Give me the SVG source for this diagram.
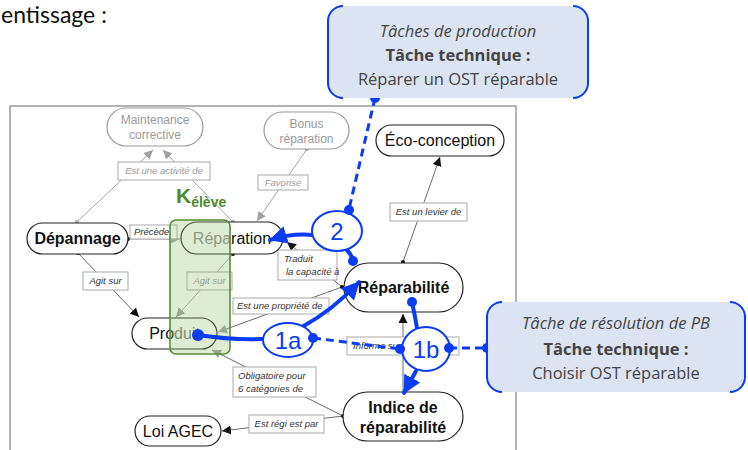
<svg xmlns="http://www.w3.org/2000/svg" width="748" height="450" viewBox="0 0 748 450">
<defs>
<style>
.node{fill:#fff;stroke:#222;stroke-width:1.2}
.gnode{fill:#fff;stroke:#9a9a9a;stroke-width:1.2}
.nt{font-family:"Liberation Sans",Arial,sans-serif;font-size:16px;fill:#111;text-anchor:middle}
.gt{font-family:"Liberation Sans",Arial,sans-serif;font-size:12px;fill:#9a9a9a;text-anchor:middle}
.lb{fill:#fff;stroke:#aaa;stroke-width:1}
.lt{font-family:"Liberation Sans",Arial,sans-serif;font-size:9.5px;font-style:italic;fill:#333}
.glt{font-family:"Liberation Sans",Arial,sans-serif;font-size:9.5px;font-style:italic;fill:#9a9a9a}
.ln{fill:none;stroke:#444;stroke-width:0.8}
.gln{fill:none;stroke:#a5a5a5;stroke-width:1}
.blue{fill:none;stroke:#0a3cf5;stroke-width:4;stroke-linecap:round}
.bdash{fill:none;stroke:#0a3cf5;stroke-width:3;stroke-dasharray:8 5}
.bdot{fill:#0a3cf5}
.circ{fill:#fff;stroke:#0a3cf5;stroke-width:2}
.ct{font-family:"Liberation Sans",Arial,sans-serif;font-size:24px;fill:#0a3cf5;text-anchor:middle}
.co{font-family:"Open Sans","Liberation Sans",sans-serif;font-size:16.5px;fill:#444;text-anchor:middle}
</style>
<marker id="ab" markerUnits="userSpaceOnUse" markerWidth="10" markerHeight="10" refX="9" refY="5" orient="auto"><path d="M0,0.5 L9,5 L0,9.5 Z" fill="#111"/></marker>
<marker id="ag" markerUnits="userSpaceOnUse" markerWidth="10" markerHeight="10" refX="9" refY="5" orient="auto"><path d="M0,0.5 L9,5 L0,9.5 Z" fill="#a0a0a0"/></marker>
<marker id="abl" markerUnits="userSpaceOnUse" markerWidth="20" markerHeight="18" refX="17" refY="9" orient="auto"><path d="M0,0 L18,9 L0,18 Z" fill="#0a3cf5"/></marker>
</defs>

<rect width="748" height="450" fill="#fff"/>
<text x="1" y="23" font-family="Lato,'Liberation Sans',sans-serif" font-size="23" fill="#111">entissage :</text>

<rect x="10" y="106" width="506" height="360" fill="#fff" stroke="#9a9a9a" stroke-width="1.5"/>

<g id="connectors">
<path class="gln" d="M77,222 L153,150" marker-end="url(#ag)"/>
<path class="gln" d="M233,222 L163,150" marker-end="url(#ag)"/>
<path class="gln" d="M307,149 L257,221" marker-end="url(#ag)"/>
<path class="gln" d="M128,239 L180,239" marker-end="url(#ag)"/>
<path class="ln" d="M78,253 L139,317" marker-end="url(#ab)"/>
<path class="gln" d="M233,254 L176,317" marker-end="url(#ag)"/>
<path class="ln" d="M342,287 L287,242" marker-end="url(#ab)"/>
<path class="ln" d="M342,287 L218,332" marker-end="url(#ag)"/>
<path class="ln" d="M403,262 L440,157" marker-end="url(#ab)"/>
<path class="ln" d="M403,392 L403,314" marker-end="url(#ab)"/>
<path class="ln" d="M343,416 L212,350" marker-end="url(#ag)"/>
<path class="ln" d="M343,416 L222,431" marker-end="url(#ab)"/>
<g fill="#111"><circle cx="128" cy="239" r="2"/><circle cx="78" cy="253" r="2"/><circle cx="233" cy="254" r="2"/><circle cx="342" cy="287" r="2"/><circle cx="403" cy="262" r="2"/><circle cx="343" cy="416" r="2"/></g>
<g fill="#b0b0b0"><circle cx="77" cy="222" r="2.2"/><circle cx="233" cy="222" r="2.2"/><circle cx="307" cy="149" r="2.2"/></g>
</g>

<g id="labels">
<rect class="lb" x="118" y="162" width="92" height="18"/><text class="glt" x="164" y="174" text-anchor="middle">Est une activité de</text>
<rect class="lb" x="258" y="175" width="50" height="15"/><text class="glt" x="283" y="186" text-anchor="middle">Favorise</text>
<rect class="lb" x="130" y="225" width="47" height="14"/><text class="lt" x="134" y="235">Précède</text>
<rect class="lb" x="83" y="272" width="45" height="18"/><text class="lt" x="105.5" y="284" text-anchor="middle">Agit sur</text>
<rect class="lb" x="187" y="272" width="45" height="18"/><text class="glt" x="209.5" y="284" text-anchor="middle">Agit sur</text>
<rect class="lb" x="278" y="250" width="59" height="30"/><text class="lt" x="284" y="262">Traduit</text><text class="lt" x="286" y="275">la capacité à</text>
<rect class="lb" x="233" y="298" width="96" height="16"/><text class="lt" x="237" y="309">Est une propriété de</text>
<rect class="lb" x="390" y="203" width="77" height="18"/><text class="lt" x="428.5" y="215" text-anchor="middle">Est un levier de</text>
<rect class="lb" x="347" y="337" width="112" height="18"/><text class="lt" x="353" y="349">Informe sur</text>
<rect class="lb" x="233" y="367" width="83" height="30"/><text class="lt" x="238" y="379">Obligatoire pour</text><text class="lt" x="238" y="392">6 catégories de</text>
<rect class="lb" x="249" y="415" width="75" height="18"/><text class="lt" x="286.5" y="427" text-anchor="middle">Est régi est par</text>
</g>

<g id="n-maintenance"><rect class="gnode" x="107" y="108" width="96" height="38" rx="19"/><text class="gt" x="155" y="124">Maintenance</text><text class="gt" x="155" y="139">corrective</text></g>
<g id="n-bonus"><rect class="gnode" x="264" y="112" width="85" height="37" rx="18.5"/><text class="gt" x="306.5" y="128">Bonus</text><text class="gt" x="306.5" y="143">réparation</text></g>
<g id="n-eco"><rect class="node" x="376" y="125" width="128" height="31" rx="15.5"/><text class="nt" x="440" y="146">Éco-conception</text></g>
<g id="n-depannage"><rect class="node" x="27" y="223" width="101" height="31" rx="15.5"/><text class="nt" x="77.5" y="244" font-weight="bold">Dépannage</text></g>
<g id="n-reparation"><rect class="node" x="181" y="222" width="102" height="32" rx="16" stroke="#777"/><text class="nt" x="232" y="244" font-size="16.5"><tspan fill="#8a8a8a">Répa</tspan><tspan fill="#111">ration</tspan></text></g>
<g id="n-reparabilite"><rect class="node" x="344" y="263" width="119" height="49" rx="24.5" fill="#f0f0f0"/><text class="nt" x="403.5" y="293" font-weight="bold">Réparabilité</text></g>
<g id="n-produit"><rect class="node" x="132" y="318" width="85" height="31" rx="15.5"/><text class="nt" x="174.5" y="339" font-size="16.5"><tspan fill="#111">Pro</tspan><tspan fill="#777">duit</tspan></text></g>
<g id="n-indice"><rect class="node" x="343" y="392" width="120" height="49" rx="24.5"/><text class="nt" x="403" y="413" font-weight="bold">Indice de</text><text class="nt" x="403" y="433" font-weight="bold">réparabilité</text></g>
<g id="n-loi"><rect class="node" x="135" y="416" width="86" height="30" rx="15"/><text class="nt" x="178" y="437">Loi AGEC</text></g>

<g id="keleve">
<rect x="170" y="220" width="60" height="134" rx="6" fill="#8fc06a" fill-opacity="0.3" stroke="#5a8a3a" stroke-width="1.6"/>
<text x="176" y="203" font-family="'Liberation Sans',Arial,sans-serif" font-weight="bold" fill="#4f8a2c"><tspan font-size="21">K</tspan><tspan font-size="14" dy="4">élève</tspan></text>
</g>

<g id="annotations">
<path class="bdash" d="M375,98 L349,209"/>
<path class="blue" d="M313,235 Q292,233 270,240" marker-end="url(#abl)"/>
<path class="blue" d="M346,249 Q352,255 353,261"/>
<path class="blue" d="M198,335 Q230,340 263,339"/>
<path class="blue" d="M302,327 Q333,310 359,282" marker-end="url(#abl)"/>
<path class="bdash" d="M313,338 L400,349"/>
<path class="bdash" d="M449,348 L487,348"/>
<path class="blue" d="M412,302 Q415,316 417,328"/>
<path class="blue" d="M416,371 L404,393" marker-end="url(#abl)"/>
<g id="c2"><ellipse class="circ" cx="337" cy="231" rx="25" ry="20"/><text class="ct" x="337" y="240">2</text></g>
<g id="c1a"><ellipse class="circ" cx="288" cy="340" rx="25" ry="17"/><text class="ct" x="288" y="349">1a</text></g>
<g id="c1b"><ellipse class="circ" cx="426" cy="349" rx="24" ry="22"/><text class="ct" x="426" y="358">1b</text></g>
<g class="bdot"><circle cx="375" cy="98" r="5"/><circle cx="349" cy="210" r="5"/><circle cx="353" cy="261" r="5"/><circle cx="198" cy="335" r="6"/><circle cx="313" cy="338" r="5"/><circle cx="400" cy="349" r="5"/><circle cx="449" cy="348" r="5"/><circle cx="487" cy="348" r="5"/><circle cx="412" cy="302" r="5"/></g>
</g>

<g id="callout-production">
<rect x="328" y="6" width="260" height="92" rx="15" fill="#dce3f2"/>
<path d="M343,6 A15,15 0 0 0 328,21 L328,83 A15,15 0 0 0 343,98 M573,6 A15,15 0 0 1 588,21 L588,83 A15,15 0 0 1 573,98" fill="none" stroke="#0a3cf5" stroke-width="2"/>
<text class="co" x="458" y="37" font-style="italic" fill="#7a7a7a">Tâches de production</text>
<text class="co" x="458" y="61" font-weight="bold">Tâche technique :</text>
<text class="co" x="458" y="85">Réparer un OST réparable</text>
</g>

<g id="callout-pb">
<rect x="487" y="302" width="258" height="90" rx="15" fill="#dce3f2"/>
<path d="M502,302 A15,15 0 0 0 487,317 L487,377 A15,15 0 0 0 502,392 M730,302 A15,15 0 0 1 745,317 L745,377 A15,15 0 0 1 730,392" fill="none" stroke="#0a3cf5" stroke-width="2"/>
<text class="co" x="616" y="329" font-style="italic" fill="#7a7a7a">Tâche de résolution de PB</text>
<text class="co" x="616" y="355" font-weight="bold">Tâche technique :</text>
<text class="co" x="616" y="379">Choisir OST réparable</text>
</g>
</svg>
